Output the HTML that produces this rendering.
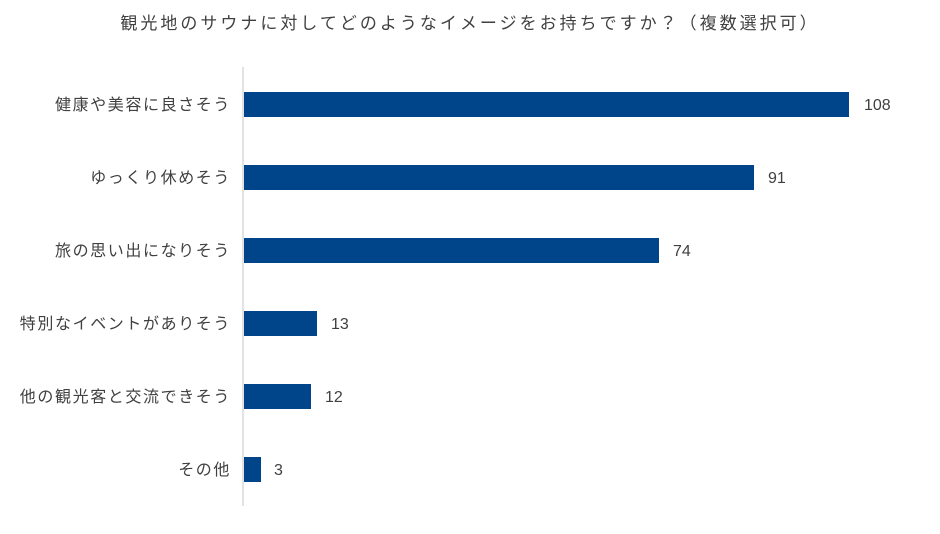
<!DOCTYPE html>
<html><head><meta charset="utf-8"><style>
body{margin:0;background:#fff;}
svg text{font-family:"Liberation Sans","Noto Sans CJK JP",sans-serif;fill:#404040;}
</style></head><body>
<svg width="940" height="529" xmlns="http://www.w3.org/2000/svg">
<rect width="940" height="529" fill="#fff"/>
<text x="470" y="29" font-size="17" letter-spacing="3" text-anchor="middle">観光地のサウナに対してどのようなイメージをお持ちですか？（複数選択可）</text>
<line x1="243" y1="67" x2="243" y2="506" stroke="#d9d9d9" stroke-width="1.5"/>
<g fill="#004489">
<rect x="244" y="92" width="605" height="25"/>
<rect x="244" y="165" width="510" height="25"/>
<rect x="244" y="238" width="415" height="25"/>
<rect x="244" y="311" width="73" height="25"/>
<rect x="244" y="384" width="67" height="25"/>
<rect x="244" y="457" width="17" height="25"/>
</g>
<g font-size="16" letter-spacing="1.6" text-anchor="end">
<text x="231" y="110">健康や美容に良さそう</text>
<text x="231" y="183">ゆっくり休めそう</text>
<text x="231" y="256">旅の思い出になりそう</text>
<text x="231" y="329">特別なイベントがありそう</text>
<text x="231" y="402">他の観光客と交流できそう</text>
<text x="231" y="475">その他</text>
</g>
<g font-size="16">
<text x="864" y="110">108</text>
<text x="768" y="183">91</text>
<text x="673" y="256">74</text>
<text x="331" y="329">13</text>
<text x="325" y="402">12</text>
<text x="274" y="475">3</text>
</g>
</svg>
</body></html>
